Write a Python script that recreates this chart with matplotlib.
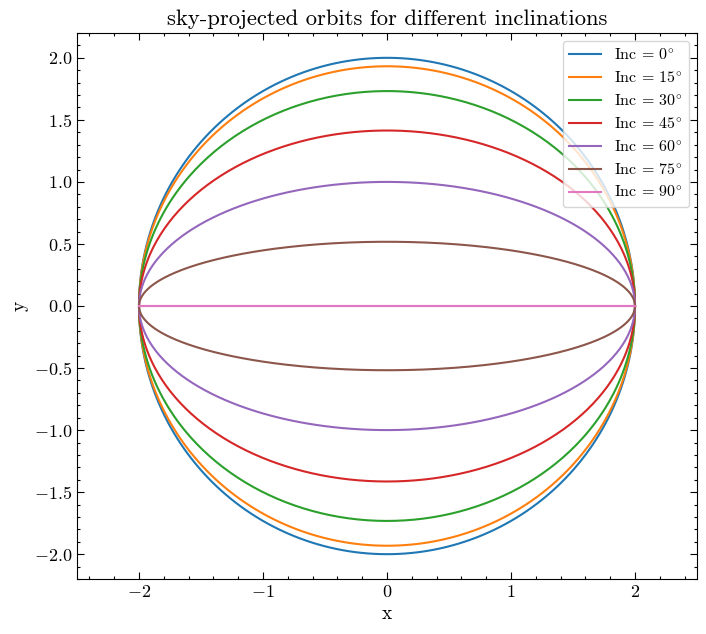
import numpy as np
import matplotlib
matplotlib.use('Agg')
import matplotlib.pyplot as plt
from matplotlib.ticker import MultipleLocator

# 字体和刻度风格
plt.rcParams['font.family'] = 'serif'
plt.rcParams['font.serif'] = ['cmr10']
plt.rcParams['mathtext.fontset'] = 'cm'
plt.rcParams['axes.formatter.use_mathtext'] = True
plt.rcParams['axes.unicode_minus'] = True

# 轨道半径和倾角
radius = 2.0
inclinations = [0, 15, 30, 45, 60, 75, 90]
colors = ['#1f77b4', '#ff7f0e', '#2ca02c', '#d62728', '#9467bd', '#8c564b', '#e377c2']

phase = np.linspace(0, 2 * np.pi, 500)

fig = plt.figure(figsize=(7.06, 6.34), dpi=100)
ax = fig.add_axes([77 / 706, 55 / 634, 620 / 706, 546 / 634])

for inc, c in zip(inclinations, colors):
    x = radius * np.cos(phase)
    y = radius * np.cos(np.radians(inc)) * np.sin(phase)
    ax.plot(x, y, color=c, lw=1.5, label=r'Inc = $%d^{\!\circ}$' % inc)

ax.set_xlim(-2.5, 2.5)
ax.set_ylim(-2.2, 2.2)
ax.xaxis.set_major_locator(MultipleLocator(1))
ax.xaxis.set_minor_locator(MultipleLocator(0.2))
ax.yaxis.set_major_locator(MultipleLocator(0.5))
ax.yaxis.set_minor_locator(MultipleLocator(0.1))
ax.tick_params(which='both', direction='in', top=True, right=True, labelsize=13)
ax.tick_params(which='major', length=5, width=0.8)
ax.tick_params(which='minor', length=2.5, width=0.8)

ax.set_xlabel('x', fontsize=14)
ax.set_ylabel('y', fontsize=14)
ax.set_title('sky-projected orbits for different inclinations', fontsize=16.3)
ax.legend(loc='upper right', fontsize=11.5, framealpha=0.8, labelspacing=0.45)

plt.savefig('out.png', dpi=100)
